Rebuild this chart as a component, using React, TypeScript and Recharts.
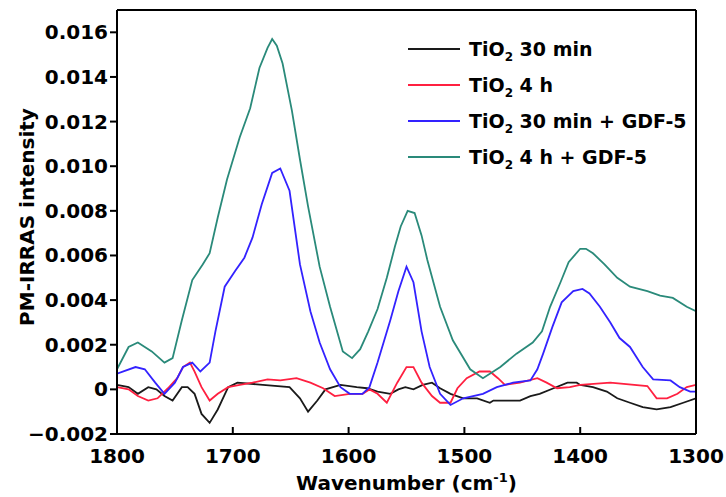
import React from 'react';
import { LineChart, Line, XAxis, YAxis, Legend, Label } from 'recharts';

const FONT = '"DejaVu Sans", Verdana, sans-serif';

// wavenumber ticks (cm-1) and intensity ticks
const wnTicks = [1800, 1700, 1600, 1500, 1400, 1300];
const intensityTicks = [-0.002, 0, 0.002, 0.004, 0.006, 0.008, 0.01, 0.012, 0.014, 0.016];

// values below are in units of 0.001
const wn30 = [1800, 1790, 1782, 1773, 1766, 1759, 1752, 1744, 1739, 1733, 1727, 1720, 1713, 1704, 1696, 1651, 1642, 1635, 1627, 1620, 1607, 1593, 1584, 1575, 1564, 1557, 1551, 1544, 1536, 1528, 1521, 1512, 1501, 1489, 1478, 1475, 1452, 1443, 1435, 1423, 1411, 1403, 1400, 1389, 1377, 1368, 1357, 1346, 1334, 1322, 1311, 1300];
const val30 = [0.2, 0.1, -0.2, 0.1, 0.0, -0.3, -0.5, 0.1, 0.1, -0.2, -1.1, -1.5, -0.9, 0.1, 0.3, 0.1, -0.4, -1.0, -0.5, 0.0, 0.2, 0.1, 0.05, -0.1, -0.2, 0.0, 0.1, 0.0, 0.2, 0.3, 0.05, -0.2, -0.4, -0.4, -0.6, -0.5, -0.5, -0.3, -0.2, 0.05, 0.3, 0.3, 0.2, 0.1, -0.1, -0.4, -0.6, -0.8, -0.9, -0.8, -0.6, -0.4];

const wn4h = [1800, 1790, 1782, 1773, 1765, 1756, 1748, 1743, 1737, 1733, 1727, 1720, 1713, 1704, 1694, 1683, 1670, 1659, 1645, 1633, 1622, 1612, 1599, 1588, 1582, 1575, 1567, 1558, 1550, 1544, 1537, 1528, 1521, 1512, 1506, 1498, 1487, 1478, 1471, 1465, 1452, 1437, 1429, 1420, 1409, 1400, 1374, 1342, 1334, 1325, 1316, 1308, 1300];
const val4h = [0.1, 0.0, -0.3, -0.5, -0.4, 0.05, 0.5, 1.0, 1.2, 0.8, 0.1, -0.5, -0.2, 0.1, 0.2, 0.3, 0.45, 0.4, 0.5, 0.3, 0.05, -0.3, -0.2, -0.2, 0.0, -0.2, -0.6, 0.3, 1.0, 1.0, 0.3, -0.3, -0.6, -0.6, 0.05, 0.5, 0.8, 0.8, 0.5, 0.2, 0.3, 0.5, 0.3, 0.05, 0.1, 0.2, 0.3, 0.15, -0.4, -0.4, -0.2, 0.1, 0.2];

const wn30g = [1800, 1784, 1776, 1767, 1759, 1750, 1743, 1735, 1728, 1720, 1715, 1707, 1698, 1690, 1683, 1675, 1666, 1659, 1651, 1642, 1633, 1625, 1616, 1607, 1599, 1588, 1582, 1575, 1564, 1557, 1550, 1544, 1537, 1530, 1521, 1512, 1501, 1484, 1472, 1458, 1443, 1437, 1432, 1424, 1416, 1406, 1398, 1392, 1383, 1374, 1366, 1357, 1346, 1337, 1322, 1314, 1305, 1300];
const val30g = [0.7, 1.0, 0.9, 0.3, -0.2, 0.3, 1.0, 1.2, 0.8, 1.2, 2.6, 4.6, 5.3, 5.9, 6.8, 8.3, 9.7, 9.9, 8.9, 5.6, 3.5, 2.1, 0.9, 0.1, -0.2, -0.2, 0.1, 1.2, 3.1, 4.4, 5.5, 4.8, 2.6, 1.0, -0.2, -0.7, -0.4, -0.2, 0.1, 0.3, 0.4, 0.9, 1.6, 2.8, 3.9, 4.4, 4.5, 4.3, 3.7, 3.0, 2.3, 1.9, 1.0, 0.45, 0.4, 0.1, -0.1, -0.1];

const wn4hg = [1800, 1790, 1782, 1770, 1759, 1752, 1744, 1735, 1726, 1720, 1713, 1705, 1694, 1685, 1677, 1670, 1666, 1662, 1657, 1649, 1642, 1635, 1625, 1616, 1605, 1597, 1590, 1583, 1575, 1567, 1560, 1555, 1549, 1543, 1537, 1532, 1521, 1510, 1495, 1484, 1469, 1455, 1441, 1433, 1426, 1417, 1410, 1400, 1395, 1389, 1379, 1368, 1357, 1342, 1331, 1320, 1308, 1300];
const val4hg = [0.9, 1.9, 2.1, 1.7, 1.2, 1.4, 3.1, 4.9, 5.6, 6.1, 7.7, 9.4, 11.3, 12.6, 14.4, 15.3, 15.7, 15.4, 14.6, 12.5, 10.3, 8.2, 5.5, 3.7, 1.7, 1.4, 1.8, 2.6, 3.6, 5.0, 6.4, 7.3, 8.0, 7.9, 6.9, 5.8, 3.7, 2.2, 0.9, 0.5, 1.0, 1.6, 2.1, 2.6, 3.7, 4.8, 5.7, 6.3, 6.3, 6.1, 5.6, 5.0, 4.6, 4.4, 4.2, 4.1, 3.7, 3.5];

const toRows = (wn: number[], val: number[]) => wn.map((w, i) => ({ wn: w, v: val[i] / 1000 }));

const series = [
  { id: 's1', pre: 'TiO', post: ' 30 min', color: '#1a1a1a', data: toRows(wn30, val30) },
  { id: 's2', pre: 'TiO', post: ' 4 h', color: '#ff2040', data: toRows(wn4h, val4h) },
  { id: 's3', pre: 'TiO', post: ' 30 min + GDF-5', color: '#3322ff', data: toRows(wn30g, val30g) },
  { id: 's4', pre: 'TiO', post: ' 4 h + GDF-5', color: '#2a8a7a', data: toRows(wn4hg, val4hg) },
];

const fmtY = (v: number) => (Math.abs(v) < 1e-9 ? '0' : v < 0 ? '\u2212' + Math.abs(v).toFixed(3) : v.toFixed(3));

const BottomTick = ({ x, y, payload }: any) => (
  <g>
    <line x1={x} x2={x} y1={y} y2={y - 7} stroke="#000" strokeWidth={2} />
    <text x={x} y={y + 29} textAnchor="middle" fontFamily={FONT} fontWeight="bold" fontSize={20} fill="#000">
      {payload.value}
    </text>
  </g>
);

const TopTick = ({ x, y }: any) => <line x1={x} x2={x} y1={y} y2={y + 7} stroke="#000" strokeWidth={2} />;

const LeftTick = ({ x, y, payload }: any) => (
  <g>
    <line x1={x - 7} x2={x} y1={y} y2={y} stroke="#000" strokeWidth={2} />
    <text x={x - 9} y={y + 7} textAnchor="end" fontFamily={FONT} fontWeight="bold" fontSize={20} fill="#000">
      {fmtY(payload.value)}
    </text>
  </g>
);

const RightTick = ({ x, y }: any) => <line x1={x} x2={x - 7} y1={y} y2={y} stroke="#000" strokeWidth={2} />;

const XTitle = ({ viewBox }: any) => (
  <text x={viewBox.x + viewBox.width / 2} y={viewBox.y + 56} textAnchor="middle" fontFamily={FONT} fontWeight="bold" fontSize={20} fill="#000">
    <tspan>Wavenumber (cm</tspan>
    <tspan dy={-8} fontSize={13}>-1</tspan>
    <tspan dy={8}>)</tspan>
  </text>
);

const YTitle = ({ viewBox }: any) => {
  const cx = viewBox.x + 27;
  const cy = viewBox.y + viewBox.height / 2 - 5;
  return (
    <text x={cx} y={cy} transform={`rotate(-90 ${cx} ${cy})`} textAnchor="middle" dominantBaseline="central" fontFamily={FONT} fontWeight="bold" fontSize={20} fill="#000">
      PM-IRRAS intensity
    </text>
  );
};

const LegendBox = () => (
  <div style={{ fontFamily: FONT, fontWeight: 'bold', fontSize: 19, color: '#000' }}>
    {series.map((s) => (
      <div key={s.id} style={{ display: 'flex', alignItems: 'center', height: 36 }}>
        <div style={{ width: 52, height: 0, borderTop: `2px solid ${s.color}`, marginRight: 9 }} />
        <span style={{ lineHeight: '22px', whiteSpace: 'nowrap' }}>
          {s.pre}
          <sub style={{ fontSize: 12, verticalAlign: -5, lineHeight: 0 }}>2</sub>
          {s.post}
        </span>
      </div>
    ))}
  </div>
);

export default function App() {
  return (
    <div style={{ position: 'absolute', left: 0, top: 0, width: 726, height: 497, background: '#fff' }}>
      <LineChart width={726} height={497} margin={{ top: 9, right: 29, bottom: 0, left: 0 }}>
        <XAxis
          xAxisId="b"
          dataKey="wn"
          type="number"
          domain={[1300, 1800]}
          reversed
          ticks={wnTicks}
          allowDataOverflow
          height={63}
          tickSize={0}
          tickMargin={0}
          tickLine={false}
          tick={<BottomTick />}
          axisLine={{ stroke: '#000', strokeWidth: 2 }}
          interval={0}
        >
          <Label content={<XTitle />} />
        </XAxis>
        <XAxis
          xAxisId="t"
          orientation="top"
          dataKey="wn"
          type="number"
          domain={[1300, 1800]}
          reversed
          ticks={wnTicks}
          height={1}
          tickSize={0}
          tickMargin={0}
          tickLine={false}
          tick={<TopTick />}
          axisLine={{ stroke: '#000', strokeWidth: 2 }}
          interval={0}
        />
        <YAxis
          yAxisId="l"
          type="number"
          domain={[-0.002, 0.017]}
          ticks={intensityTicks}
          allowDataOverflow
          width={117}
          tickSize={0}
          tickMargin={0}
          tickLine={false}
          tick={<LeftTick />}
          axisLine={{ stroke: '#000', strokeWidth: 2 }}
          interval={0}
        >
          <Label content={<YTitle />} />
        </YAxis>
        <YAxis
          yAxisId="r"
          orientation="right"
          type="number"
          domain={[-0.002, 0.017]}
          ticks={intensityTicks}
          width={1}
          tickSize={0}
          tickMargin={0}
          tickLine={false}
          tick={<RightTick />}
          axisLine={{ stroke: '#000', strokeWidth: 2 }}
          interval={0}
        />
        <Legend
          layout="vertical"
          align="center"
          verticalAlign="middle"
          content={<LegendBox />}
          wrapperStyle={{ position: 'absolute', top: 31, left: 408, width: 300 }}
        />
        {series.map((s) => (
          <Line
            key={s.id}
            xAxisId="b"
            yAxisId="l"
            data={s.data}
            dataKey="v"
            type="linear"
            stroke={s.color}
            strokeWidth={1.8}
            dot={false}
            isAnimationActive={false}
            legendType="line"
          />
        ))}
      </LineChart>
    </div>
  );
}
